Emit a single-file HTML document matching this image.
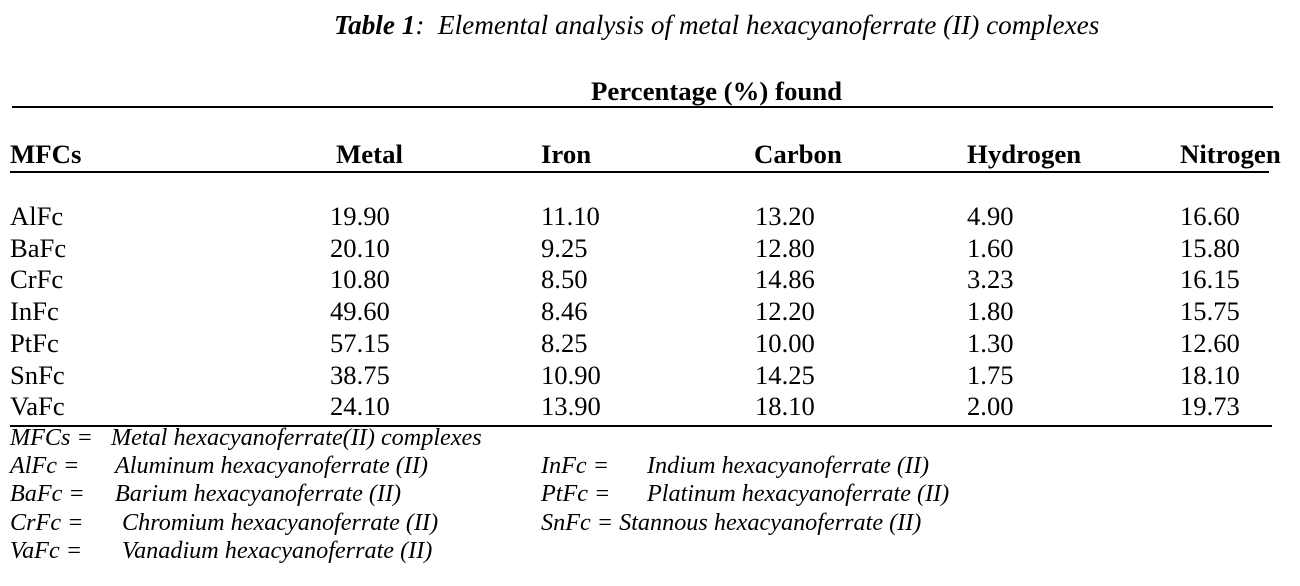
<!DOCTYPE html>
<html><head><meta charset="utf-8"><style>
body{margin:0;width:1300px;height:586px;background:#fff;position:relative;overflow:hidden;font-family:"Liberation Serif",serif;color:#000}
.t{position:absolute;white-space:nowrap;line-height:1}
.d{font-size:26.6px}
.h{font-size:26.8px;font-weight:bold}
.f{font-size:24.2px;font-style:italic}
.ln{position:absolute;height:2px;background:#000}
</style></head><body>
<div class="t" style="left:334px;top:12px;font-size:27.2px;font-style:italic"><b>Table 1</b>:&nbsp; Elemental analysis of metal hexacyanoferrate (II) complexes</div>
<div class="t h" style="left:591px;top:78px">Percentage (%) found</div>
<div class="ln" style="left:12px;top:106px;width:1261px"></div>
<div class="t h" style="left:10px;top:141px">MFCs</div>
<div class="t h" style="left:336px;top:141px">Metal</div>
<div class="t h" style="left:541px;top:141px">Iron</div>
<div class="t h" style="left:754px;top:141px">Carbon</div>
<div class="t h" style="left:967px;top:141px">Hydrogen</div>
<div class="t h" style="left:1180px;top:141px">Nitrogen</div>
<div class="ln" style="left:10px;top:171px;width:1259px"></div>
<div id="rows"></div>
<div class="ln" style="left:10px;top:425px;width:1262px"></div>
<div class="t f" style="left:10px;top:426px">MFCs =&nbsp;&nbsp; Metal hexacyanoferrate(II) complexes</div>
<div class="t f" style="left:10px;top:454px">AlFc =</div>
<div class="t f" style="left:115px;top:454px">Aluminum hexacyanoferrate (II)</div>
<div class="t f" style="left:10px;top:482px">BaFc =</div>
<div class="t f" style="left:115px;top:482px">Barium hexacyanoferrate (II)</div>
<div class="t f" style="left:10px;top:511px">CrFc =</div>
<div class="t f" style="left:122px;top:511px">Chromium hexacyanoferrate (II)</div>
<div class="t f" style="left:10px;top:539px">VaFc =</div>
<div class="t f" style="left:122px;top:539px">Vanadium hexacyanoferrate (II)</div>
<div class="t f" style="left:541px;top:454px">InFc =</div>
<div class="t f" style="left:647px;top:454px">Indium hexacyanoferrate (II)</div>
<div class="t f" style="left:541px;top:482px">PtFc =</div>
<div class="t f" style="left:647px;top:482px">Platinum hexacyanoferrate (II)</div>
<div class="t f" style="left:541px;top:511px">SnFc = Stannous hexacyanoferrate (II)</div>
<script>
const names=["AlFc","BaFc","CrFc","InFc","PtFc","SnFc","VaFc"];
const metal=["19.90","20.10","10.80","49.60","57.15","38.75","24.10"];
const iron=["11.10","9.25","8.50","8.46","8.25","10.90","13.90"];
const carbon=["13.20","12.80","14.86","12.20","10.00","14.25","18.10"];
const hydrogen=["4.90","1.60","3.23","1.80","1.30","1.75","2.00"];
const nitrogen=["16.60","15.80","16.15","15.75","12.60","18.10","19.73"];
const cols=[[names,10,"name"],[metal,330,"metal"],[iron,541,"iron"],[carbon,755,"carbon"],[hydrogen,967,"hydrogen"],[nitrogen,1180,"nitrogen"]];
const rows=document.getElementById('rows');
for(let i=0;i<names.length;i++){
  for(const [arr,x,key] of cols){
    const el=document.createElement('div');
    el.className='t d';
    el.style.left=x+'px';
    el.style.top=(203+i*31.7)+'px';
    el.textContent=arr[i];
    
    
    rows.appendChild(el);
  }
}
</script>
</body></html>
